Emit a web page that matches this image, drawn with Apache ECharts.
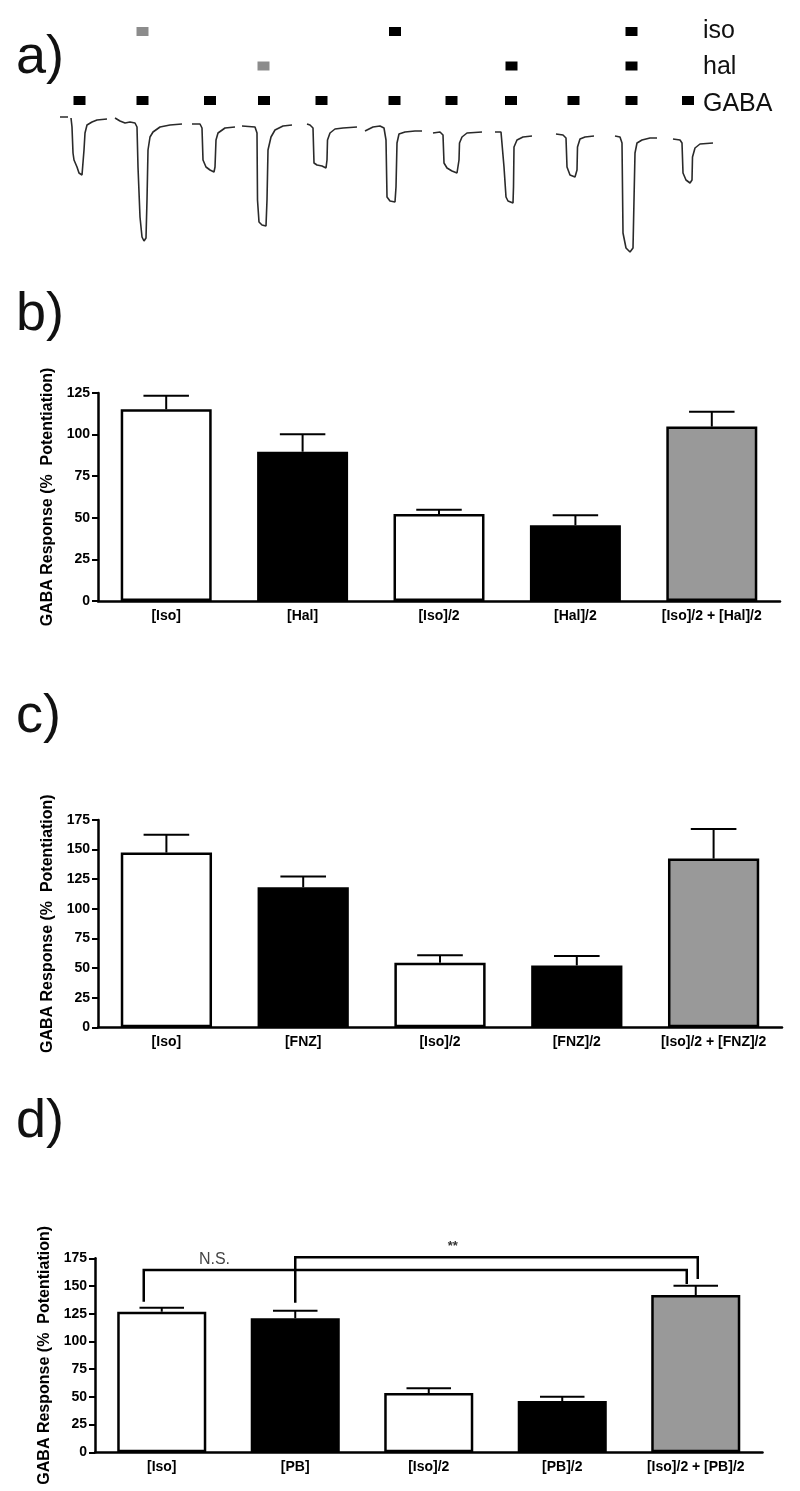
<!DOCTYPE html>
<html>
<head>
<meta charset="utf-8">
<script src="https://cdn.jsdelivr.net/npm/echarts/dist/echarts.min.js"></script>
<style>
html,body{margin:0;padding:0;background:#fff;}
#chart{width:800px;height:1491px;}
</style>
</head>
<body>
<div id="chart"></div>
<script>
// ---------- Panel a: current traces (time in s, current in nA) ----------
const trace1 = [[60,-17],[68,-17]];
const trace1b = [[71,-18],[72,-27],[73,-53],[74,-60],[77,-67],[79,-73],[82,-75],[83,-73],[84,-50],[85,-33],[87,-25],[92,-22],[97,-20],[107,-19]];
const trace2 = [[115,-18],[120,-21],[125,-23],[130,-22],[135,-23],[137,-27],[138,-67],[140,-117],[142,-137],[144,-141],[146,-138],[147,-100],[148,-50],[150,-37],[153,-32],[160,-27],[170,-25],[182,-24]];
const trace3 = [[192,-24],[200,-24],[202,-28],[203,-60],[206,-67],[210,-70],[214,-72],[215,-67],[216,-40],[218,-33],[225,-28],[235,-27]];
const trace4 = [[242,-26],[255,-27],[257,-33],[257.5,-100],[259,-122],[262,-125],[266,-126],[267,-100],[268,-50],[271,-37],[275,-30],[283,-26],[292,-25]];
const trace5 = [[307,-24],[310,-25],[313,-28],[314,-63],[317,-65],[322,-66],[326,-68],[327,-60],[327.5,-40],[330,-33],[335,-29],[343,-28],[357,-27]];
const trace6 = [[365,-31],[373,-27],[380,-26],[384,-28],[386,-40],[387,-97],[390,-101],[395,-102],[396,-87],[397,-43],[399,-34],[405,-32],[415,-31],[422,-31]];
const trace7 = [[433,-33],[440,-32],[443,-35],[444,-63],[447,-68],[452,-71],[457,-73],[459,-60],[459.5,-43],[462,-37],[467,-33],[482,-32]];
const trace8 = [[495,-32],[501,-32],[503,-34],[504,-67],[506,-97],[508,-101],[513,-103],[513.5,-87],[514,-47],[517,-40],[523,-37],[532,-36]];
const trace9 = [[556,-34],[563,-35],[566,-38],[567,-67],[570,-75],[575,-77],[577,-70],[577.5,-47],[580,-39],[585,-37],[594,-36]];
const trace10 = [[615,-36],[620,-37],[622,-43],[623,-133],[626,-148],[630,-152],[633,-148],[634,-100],[635,-53],[637,-43],[642,-40],[650,-38],[657,-38]];
const trace11 = [[673,-39],[680,-40],[682,-43],[683,-73],[686,-80],[690,-83],[692,-80],[692.5,-57],[695,-48],[700,-44],[713,-43]];
const traces = [trace1, trace1b, trace2, trace3, trace4, trace5, trace6, trace7, trace8, trace9, trace10, trace11];

// drug application times (s) and row levels
const gabaTimes = [79.5,142.5,210,264,321.5,394.5,451.5,511,573.5,631.5,688];
const isoTimes = [142.5,395,631.5];
const isoShade = ['#8c8c8c','#000000','#000000'];
const halTimes = [263.5,511.5,631.5];
const halShade = ['#8c8c8c','#000000','#000000'];
const rowLevel = {iso: 68.5, hal: 34, GABA: -0.5};
const rowNames = ['iso','hal','GABA'];

// ---------- Panels b, c, d ----------
const catsB = ['[Iso]','[Hal]','[Iso]/2','[Hal]/2','[Iso]/2 + [Hal]/2'];
const meanB = [115.2, 89.7, 52.3, 45.5, 104.8];
const errB  = [8.2, 10.5, 2.6, 6.0, 9.0];

const catsC = ['[Iso]','[FNZ]','[Iso]/2','[FNZ]/2','[Iso]/2 + [FNZ]/2'];
const meanC = [147.5, 118.2, 54.5, 52.2, 142.4];
const errC  = [15.1, 9.0, 6.4, 7.9, 25.0];

const catsD = ['[Iso]','[PB]','[Iso]/2','[PB]/2','[Iso]/2 + [PB]/2'];
const meanD = [126.8, 120.9, 53.5, 46.3, 141.9];
const errD  = [3.6, 6.8, 4.2, 3.9, 8.4];

const yMaxB = 125, yMaxCD = 175, yStep = 25;
const barFills = ['#ffffff','#000000','#ffffff','#000000','#999999'];

// significance brackets in panel d (category indices, levels in % potentiation)
const bracketsD = [
  {from: 0, to: 4, level: 164.4, leftEnd: 135.8, rightEnd: 151.8, text: 'N.S.'},
  {from: 1, to: 4, level: 175.9, leftEnd: 135.0, rightEnd: 156.3, text: '**'}
];

// ---------- styling / layout ----------
const FONT = '"Liberation Sans", Arial, Helvetica, sans-serif';
const yName = 'GABA Response (%  Potentiation)';
const bracketStyle = [
  {dxL: -18, dxR: -9, labelCats: [0,1], labelDx: -14, labelGap: 2, font: 'normal 16px ' + FONT, color: '#444'},
  {dxL: 0, dxR: 2, labelCats: [2,2], labelDx: 24, labelGap: 4, font: 'bold 13px ' + FONT, color: '#333'}
];

const chart = echarts.init(document.getElementById('chart'), null, {renderer: 'canvas'});

const grids = [
  {left: 0, top: 0, width: 800, height: 270},
  {left: 98, top: 393, width: 682, height: 208},
  {left: 98, top: 820, width: 684, height: 207.3},
  {left: 95, top: 1258.3, width: 667.5, height: 194}
];

function catAxis(idx, cats) {
  return {
    type: 'category', gridIndex: idx, data: cats,
    axisLine: {lineStyle: {color: '#000', width: 2.5}},
    axisTick: {alignWithLabel: true, length: 5, lineStyle: {color: '#000', width: 2}},
    axisLabel: {interval: 0, color: '#000', fontFamily: FONT, fontWeight: 'bold', fontSize: 14, margin: 8},
    splitLine: {show: false}
  };
}
function valAxis(idx, max) {
  return {
    type: 'value', gridIndex: idx, min: 0, max: max, interval: yStep,
    name: yName, nameLocation: 'middle', nameGap: 37,
    nameTextStyle: {color: '#000', fontFamily: FONT, fontWeight: 'bold', fontSize: 16},
    axisLine: {show: true, lineStyle: {color: '#000', width: 2.5}},
    axisTick: {show: true, length: 6, lineStyle: {color: '#000', width: 2}},
    axisLabel: {color: '#000', fontFamily: FONT, fontWeight: 'bold', fontSize: 14, margin: 8},
    splitLine: {show: false}
  };
}

const xAxes = [
  {type: 'value', gridIndex: 0, min: 0, max: 800, show: false},
  catAxis(1, catsB), catAxis(2, catsC), catAxis(3, catsD)
];
const yAxes = [
  {type: 'value', gridIndex: 0, min: -170, max: 100, show: false},
  valAxis(1, yMaxB), valAxis(2, yMaxCD), valAxis(3, yMaxCD)
];

const series = [];
traces.forEach(function (t) {
  series.push({
    type: 'line', xAxisIndex: 0, yAxisIndex: 0, data: t, showSymbol: false, silent: true,
    lineStyle: {color: '#2a2a2a', width: 1.6}, animation: false
  });
});
function squares(times, level, colors) {
  return {
    type: 'scatter', xAxisIndex: 0, yAxisIndex: 0, symbol: 'rect', symbolSize: [12, 9], animation: false,
    itemStyle: {opacity: 1},
    data: times.map(function (t, i) { return {value: [t, level], itemStyle: {color: colors ? colors[i] : '#000', opacity: 1}}; })
  };
}
series.push(squares(gabaTimes, rowLevel.GABA));
series.push(squares(isoTimes, rowLevel.iso, isoShade));
series.push(squares(halTimes, rowLevel.hal, halShade));

function barSeries(idx, means) {
  return {
    type: 'bar', xAxisIndex: idx, yAxisIndex: idx, barWidth: '66.7%', animation: false,
    data: means.map(function (v, i) {
      return {value: v, itemStyle: {color: barFills[i], borderColor: '#000', borderWidth: 2.5}};
    })
  };
}
function errSeries(idx, means, errs) {
  return {
    type: 'custom', xAxisIndex: idx, yAxisIndex: idx, animation: false, z: 1,
    data: means.map(function (m, i) { return [i, m, errs[i]]; }),
    encode: {x: 0, y: 1},
    renderItem: function (params, api) {
      const i = api.value(0), m = api.value(1), e = api.value(2);
      const p0 = api.coord([i, m]), p1 = api.coord([i, m + e]);
      const half = api.size([1, 0])[0] * 0.667 / 4;
      const st = {stroke: '#000', lineWidth: 2};
      return {type: 'group', children: [
        {type: 'line', shape: {x1: p0[0], y1: p0[1], x2: p1[0], y2: p1[1]}, style: st},
        {type: 'line', shape: {x1: p1[0] - half, y1: p1[1], x2: p1[0] + half, y2: p1[1]}, style: st}
      ]};
    }
  };
}
series.push(errSeries(1, meanB, errB), barSeries(1, meanB));
series.push(errSeries(2, meanC, errC), barSeries(2, meanC));
series.push(errSeries(3, meanD, errD), barSeries(3, meanD));

series.push({
  type: 'custom', xAxisIndex: 3, yAxisIndex: 3, animation: false, clip: false, z: 5,
  data: bracketsD.map(function (b) { return [b.from, b.level]; }),
  encode: {x: 0, y: 1},
  renderItem: function (params, api) {
    const b = bracketsD[params.dataIndex], s = bracketStyle[params.dataIndex];
    const xl = api.coord([b.from, b.level])[0] + s.dxL;
    const xr = api.coord([b.to, b.level])[0] + s.dxR;
    const yt = api.coord([b.from, b.level])[1];
    const yl = api.coord([b.from, b.leftEnd])[1];
    const yr = api.coord([b.to, b.rightEnd])[1];
    const tx = (api.coord([s.labelCats[0], b.level])[0] + api.coord([s.labelCats[1], b.level])[0]) / 2 + s.labelDx;
    return {type: 'group', children: [
      {type: 'polyline', shape: {points: [[xl, yl], [xl, yt], [xr, yt], [xr, yr]]},
       style: {stroke: '#000', lineWidth: 2.5, fill: null}},
      {type: 'text', x: tx, y: yt - s.labelGap,
       style: {text: b.text, font: s.font, fill: s.color, align: 'center', verticalAlign: 'bottom'}}
    ]};
  }
});

const graphics = [];
const panelLabels = [['a)', 85], ['b)', 342], ['c)', 744], ['d)', 1149]];
panelLabels.forEach(function (p) {
  graphics.push({type: 'text', x: 16, y: p[1], style: {text: p[0], font: 'normal 54px ' + FONT, fill: '#111', align: 'left', verticalAlign: 'bottom'}});
});
const rowTextY = [44, 80, 117];
rowNames.forEach(function (n, i) {
  graphics.push({type: 'text', x: 703, y: rowTextY[i], style: {text: n, font: 'normal 25px ' + FONT, fill: '#111', align: 'left', verticalAlign: 'bottom'}});
});

chart.setOption({
  backgroundColor: '#fff',
  animation: false,
  grid: grids,
  xAxis: xAxes,
  yAxis: yAxes,
  series: series,
  graphic: graphics
});
</script>
</body>
</html>
